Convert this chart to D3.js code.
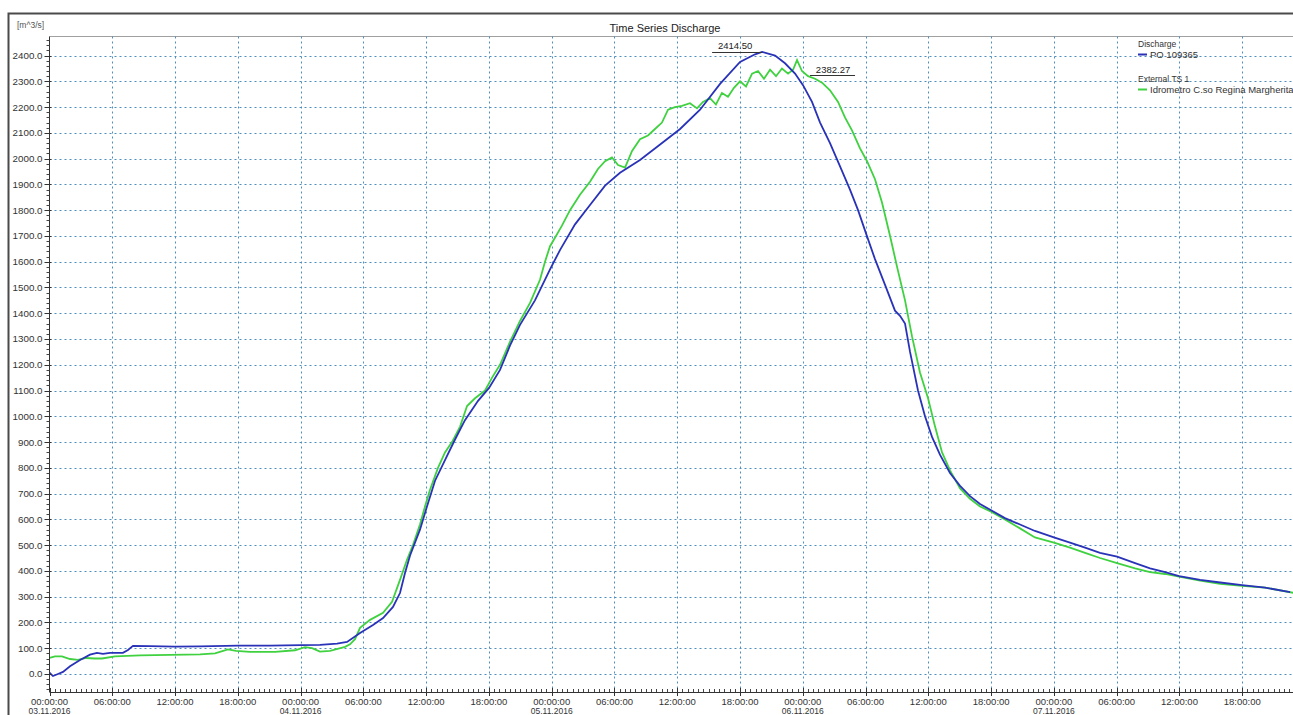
<!DOCTYPE html>
<html><head><meta charset="utf-8">
<script src="https://cdn.jsdelivr.net/npm/d3@7"></script>
<style>
body{margin:0;background:#fff}
svg{display:block}
text{font-family:"Liberation Sans",Arial,sans-serif}
</style>
</head><body>
<svg id="c" width="1293" height="715"></svg>
<script>
const startDate = new Date(2016, 10, 3, 0, 0, 0);
const endDate = new Date(2016, 10, 8, 0, 0, 0);
const chartTitle = "Time Series Discharge";
const unitLabel = "[m^3/s]";
const yTickValues = d3.range(0, 2401, 100);
const yDomain = [-70, 2474];
const legendGroups = ["Discharge", "External TS 1"];
const seriesNames = ["PO 109365", "Idrometro C.so Regina Margherita"];

// hours since 03.11.2016 00:00 and discharge values
const blueHours = [0.00,0.33,0.81,1.29,1.96,2.92,3.87,4.54,5.11,5.78,7.02,7.50,7.98,9.61,11.99,14.39,18.02,21.08,24.04,25.85,27.48,28.44,29.68,30.92,31.88,32.83,33.50,33.98,34.46,35.41,36.08,36.85,37.80,38.76,39.71,40.96,42.01,43.06,44.02,44.97,46.40,47.84,48.79,50.23,51.66,53.10,54.53,56.44,58.36,60.27,62.18,64.09,66.00,67.44,68.11,69.35,70.30,71.26,72.02,72.88,73.65,74.60,75.56,76.51,77.28,78.04,78.90,79.86,80.81,81.29,81.77,82.25,83.01,83.68,84.35,85.12,86.07,87.03,87.98,88.94,90.00,91.32,92.76,94.19,96.00,97.54,98.98,100.41,102.04,103.76,105.19,106.63,107.97,109.98,111.89,113.99,116.19,118.58];
const blueValues = [5,-8,0,8,30,54,75,82,78,82,82,93,109,108,106,107,110,110,112,113,118,124,159,190,217,260,314,392,460,560,650,750,830,910,985,1060,1110,1180,1275,1355,1450,1570,1645,1745,1820,1895,1945,1995,2055,2115,2190,2290,2375,2405,2414.5,2400,2370,2330,2285,2220,2140,2060,1970,1880,1800,1710,1610,1510,1410,1390,1360,1250,1100,1000,920,850,780,730,690,660,635,605,580,555,530,510,490,470,455,430,410,395,380,365,355,345,335,318];

const greenHours = [0.00,0.53,1.19,1.96,2.72,3.49,4.35,5.02,6.26,8.65,11.52,14.39,15.82,17.06,17.83,19.17,21.56,23.47,24.42,25.09,25.85,26.81,28.25,28.72,29.20,29.68,30.64,31.88,32.74,33.50,34.17,34.74,35.41,35.89,36.37,37.13,37.80,38.47,39.24,39.91,40.67,41.63,42.30,43.06,44.02,44.97,45.93,46.88,47.36,47.84,48.41,48.98,49.75,50.70,51.66,52.42,53.10,53.76,54.34,55.01,55.68,56.44,57.20,57.87,58.54,59.12,59.78,60.45,61.22,61.89,62.46,63.13,63.70,64.27,64.85,65.42,66.00,66.57,67.15,67.72,68.29,68.87,69.44,70.01,70.59,71.07,71.45,71.92,72.50,73.17,73.84,74.60,75.37,76.03,76.70,77.47,78.14,78.90,79.57,80.34,81.01,81.77,82.44,83.20,83.97,84.64,85.31,86.07,87.03,87.98,88.94,90.00,91.32,92.76,94.19,96.00,97.54,98.98,100.41,102.04,103.76,105.19,106.63,107.97,109.98,111.89,113.99,116.19,118.87];
const greenValues = [62,68,68,58,55,62,60,60,68,72,74,76,80,95,90,86,86,92,104,100,87,90,105,115,135,179,210,237,280,365,443,500,580,650,715,800,860,900,960,1040,1070,1100,1150,1200,1290,1370,1440,1530,1600,1660,1700,1740,1800,1860,1910,1960,1990,2005,1975,1965,2030,2075,2090,2115,2140,2190,2200,2205,2215,2195,2220,2235,2210,2255,2240,2275,2300,2280,2330,2340,2310,2345,2320,2350,2330,2345,2382.27,2340,2320,2310,2295,2265,2220,2160,2110,2040,1990,1920,1830,1700,1580,1450,1310,1170,1070,960,860,790,720,680,650,630,600,565,530,510,490,470,450,430,410,395,388,378,362,350,342,335,315];

const blueColor = "#2a33b8", greenColor = "#3fd13f";
const svg = d3.select("#c");
const L = 49.5, T = 36.5, B = 692, R = 1305;

const toDate = h => new Date(startDate.getTime() + h * 3600e3);
const x = d3.scaleTime().domain([startDate, endDate]).range([L, R]);
const y = d3.scaleLinear().domain(yDomain).range([B, T]);

// outer frame
svg.append("rect").attr("x", 8.5).attr("y", 13.5).attr("width", 1400).attr("height", 800)
  .attr("fill", "#fff").attr("stroke", "#4a4a4a").attr("stroke-width", 2);

const clipId = "plotclip";
svg.append("clipPath").attr("id", clipId).append("rect")
  .attr("x", L).attr("y", T).attr("width", R - L).attr("height", B - T);

// top border of plot
svg.append("line").attr("x1", L).attr("x2", 1293).attr("y1", T).attr("y2", T)
  .attr("stroke", "#a0a0a0").attr("stroke-width", 1);

// grid
const sixH = d3.timeHour.every(6).range(startDate, endDate);
const g = svg.append("g");
g.selectAll("line.vg").data(sixH.slice(1)).join("line")
  .attr("x1", d => Math.round(x(d)) + 0.5).attr("x2", d => Math.round(x(d)) + 0.5)
  .attr("y1", T).attr("y2", B)
  .attr("stroke", "#4f8fbf").attr("stroke-dasharray", "2,3").attr("stroke-width", 1);
g.selectAll("line.hg").data(yTickValues).join("line")
  .attr("x1", L).attr("x2", R)
  .attr("y1", d => Math.round(y(d)) + 0.5).attr("y2", d => Math.round(y(d)) + 0.5)
  .attr("stroke", "#4f8fbf").attr("stroke-dasharray", "2,3").attr("stroke-width", 1);

// series
const line = d3.line().x(d => x(toDate(d[0]))).y(d => y(d[1]));
const plot = svg.append("g").attr("clip-path", `url(#${clipId})`);
plot.append("path").datum(d3.zip(greenHours, greenValues))
  .attr("d", line).attr("fill", "none").attr("stroke", greenColor).attr("stroke-width", 1.8);
plot.append("path").datum(d3.zip(blueHours, blueValues))
  .attr("d", line).attr("fill", "none").attr("stroke", blueColor).attr("stroke-width", 1.8);

// y axis
const yAxis = svg.append("g");
yAxis.append("line").attr("x1", L).attr("x2", L).attr("y1", T).attr("y2", B).attr("stroke", "#333");
const yMinor = d3.range(-60, 2470, 20).filter(v => v % 100 !== 0);
yAxis.selectAll("line.ym").data(yMinor).join("line")
  .attr("x1", L - 3).attr("x2", L).attr("y1", d => Math.round(y(d)) + 0.5).attr("y2", d => Math.round(y(d)) + 0.5)
  .attr("stroke", "#444");
yAxis.selectAll("line.yM").data(yTickValues).join("line")
  .attr("x1", L - 5).attr("x2", L + 2).attr("y1", d => Math.round(y(d)) + 0.5).attr("y2", d => Math.round(y(d)) + 0.5)
  .attr("stroke", "#333");
yAxis.selectAll("text").data(yTickValues).join("text")
  .attr("x", L - 7).attr("y", d => y(d) + 3.5).attr("text-anchor", "end")
  .attr("font-size", 9.8).attr("fill", "#333").text(d3.format(".1f"));

// x axis
const xAxis = svg.append("g");
xAxis.append("line").attr("x1", L).attr("x2", R).attr("y1", B + 0.5).attr("y2", B + 0.5).attr("stroke", "#333");
const halfH = d3.timeMinute.every(30).range(startDate, endDate);
xAxis.selectAll("line.xm").data(halfH).join("line")
  .attr("x1", d => Math.round(x(d)) + 0.5).attr("x2", d => Math.round(x(d)) + 0.5)
  .attr("y1", B - 3).attr("y2", B).attr("stroke", "#444");
xAxis.selectAll("line.xM").data(sixH).join("line")
  .attr("x1", d => Math.round(x(d)) + 0.5).attr("x2", d => Math.round(x(d)) + 0.5)
  .attr("y1", B - 4).attr("y2", B + 4).attr("stroke", "#333");
const fmtT = d3.timeFormat("%H:%M:%S"), fmtD = d3.timeFormat("%d.%m.%Y");
xAxis.selectAll("text.t").data(sixH).join("text")
  .attr("x", d => x(d)).attr("y", B + 13).attr("text-anchor", "middle")
  .attr("font-size", 9.5).attr("fill", "#333").text(fmtT);
xAxis.selectAll("text.d").data(sixH.filter(d => d.getHours() === 0)).join("text")
  .attr("x", d => x(d)).attr("y", B + 21.5).attr("text-anchor", "middle")
  .attr("font-size", 8.5).attr("fill", "#333").text(fmtD);

// title & unit
svg.append("text").attr("x", 665).attr("y", 32).attr("text-anchor", "middle")
  .attr("font-size", 11).attr("fill", "#222").text(chartTitle);
svg.append("text").attr("x", 17).attr("y", 28)
  .attr("font-size", 8.5).attr("fill", "#555").text(unitLabel);

// peak annotations
const bi = blueValues.indexOf(d3.max(blueValues));
const bx = x(toDate(blueHours[bi])), by = y(blueValues[bi]);
svg.append("line").attr("x1", bx - 50).attr("x2", bx).attr("y1", Math.round(by) + 0.5).attr("y2", Math.round(by) + 0.5)
  .attr("stroke", "#333");
svg.append("text").attr("x", bx - 27).attr("y", by - 3).attr("text-anchor", "middle")
  .attr("font-size", 9.5).attr("fill", "#222").text(d3.format(".2f")(blueValues[bi]));
const gi = greenValues.indexOf(d3.max(greenValues));
const gx = x(toDate(greenHours[gi])), gy = y(greenValues[gi]);
svg.append("line").attr("x1", gx + 13).attr("x2", gx + 58).attr("y1", Math.round(gy + 15) + 0.5).attr("y2", Math.round(gy + 15) + 0.5)
  .attr("stroke", "#333");
svg.append("text").attr("x", gx + 36).attr("y", gy + 13).attr("text-anchor", "middle")
  .attr("font-size", 9.5).attr("fill", "#222").text(d3.format(".2f")(greenValues[gi]));

// legend
const lg = svg.append("g").attr("transform", "translate(1138,0)");
const legendRows = [
  {group: legendGroups[0], name: seriesNames[0], color: blueColor, y: 47},
  {group: legendGroups[1], name: seriesNames[1], color: greenColor, y: 82}
];
legendRows.forEach(r => {
  lg.append("text").attr("x", 0).attr("y", r.y).attr("font-size", 8.5).attr("fill", "#333").text(r.group);
  lg.append("line").attr("x1", 0).attr("x2", 9).attr("y1", r.y + 7.5).attr("y2", r.y + 7.5)
    .attr("stroke", r.color).attr("stroke-width", 2);
  lg.append("text").attr("x", 12).attr("y", r.y + 11).attr("font-size", 9.5).attr("fill", "#333").text(r.name);
});
</script>
</body></html>
